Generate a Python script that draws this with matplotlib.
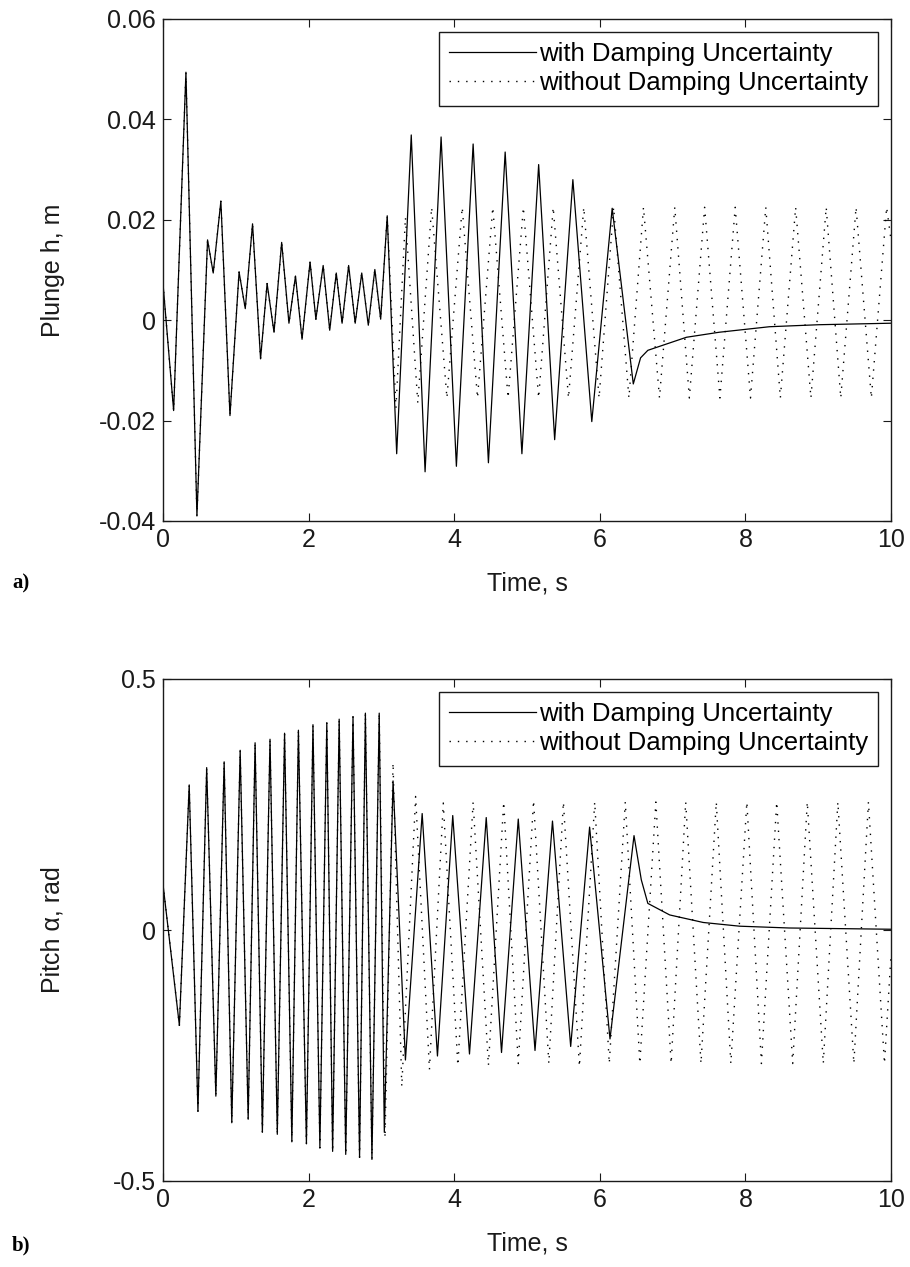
import numpy as np
import matplotlib
matplotlib.use("Agg")
import matplotlib.pyplot as plt

# ---------------- data ----------------
# (a) plunge, with damping uncertainty
t_h_with = [0.00, 0.146, 0.315, 0.466, 0.612, 0.69, 0.795, 0.92, 1.045, 1.13,
            1.23, 1.34, 1.43, 1.525, 1.63, 1.73, 1.82, 1.91, 2.02, 2.10,
            2.20, 2.29, 2.38, 2.46, 2.55, 2.64, 2.73, 2.82, 2.91, 2.99,
            3.08, 3.21, 3.41, 3.60, 3.82, 4.03, 4.26, 4.47, 4.70, 4.93,
            5.16, 5.38, 5.63, 5.89, 6.17, 6.46, 6.56, 6.66, 7.19, 7.64,
            8.33, 9.01, 10.0]
h_with = [0.0073, -0.018, 0.0494, -0.039, 0.016, 0.0094, 0.0237, -0.019, 0.0096, 0.0023,
          0.0192, -0.0077, 0.0073, -0.0024, 0.0155, -0.0006, 0.0088, -0.0038, 0.0116, 0.0002,
          0.0109, -0.002, 0.0094, -0.0006, 0.0109, -0.0006, 0.0094, -0.001, 0.0101, 0.0002,
          0.0208, -0.0266, 0.0369, -0.0302, 0.0365, -0.0291, 0.0351, -0.0284, 0.0335, -0.0266,
          0.031, -0.0238, 0.028, -0.0202, 0.0223, -0.0127, -0.0075, -0.006, -0.0034, -0.0024,
          -0.0013, -0.0009, -0.0006]
# (a) plunge, without damping uncertainty: same as above up to t = 3.08, then
t_h_without_tail = [3.20, 3.33, 3.50, 3.69, 3.90, 4.11, 4.32, 4.53, 4.74, 4.95,
                    5.16, 5.36, 5.57, 5.78, 5.99, 6.19, 6.40, 6.60, 6.82, 7.03,
                    7.23, 7.44, 7.65, 7.86, 8.07, 8.28, 8.48, 8.69, 8.90, 9.11,
                    9.31, 9.52, 9.73, 9.94, 10.0]
h_without_tail = [-0.0175, 0.0205, -0.0165, 0.0225, -0.0155, 0.0225, -0.0155, 0.0225, -0.0155, 0.0225,
                  -0.0155, 0.0225, -0.0155, 0.0225, -0.0155, 0.0225, -0.0155, 0.0225, -0.0155, 0.0225,
                  -0.0155, 0.0225, -0.0155, 0.0225, -0.0155, 0.0225, -0.0155, 0.0225, -0.0155, 0.0225,
                  -0.0155, 0.0225, -0.0155, 0.0225, 0.016]

# (b) pitch, with damping uncertainty
t_a_with = [0.00, 0.225, 0.36, 0.48, 0.60, 0.726, 0.84, 0.945, 1.06, 1.17,
            1.265, 1.365, 1.47, 1.57, 1.67, 1.77, 1.86, 1.97, 2.06, 2.155,
            2.25, 2.33, 2.42, 2.51, 2.61, 2.70, 2.78, 2.87, 2.97, 3.04,
            3.16, 3.33, 3.56, 3.77, 3.98, 4.21, 4.44, 4.65, 4.88, 5.11,
            5.35, 5.60, 5.86, 6.14, 6.47, 6.57, 6.66, 6.96, 7.42, 7.92,
            8.60, 10.0]
a_with = [0.091, -0.19, 0.289, -0.361, 0.3235, -0.331, 0.335, -0.384, 0.358, -0.377,
          0.373, -0.403, 0.38, -0.407, 0.392, -0.422, 0.398, -0.426, 0.409, -0.434,
          0.4125, -0.441, 0.42, -0.447, 0.4247, -0.453, 0.432, -0.457, 0.432, -0.403,
          0.297, -0.259, 0.232, -0.251, 0.228, -0.247, 0.224, -0.244, 0.221, -0.24,
          0.217, -0.232, 0.205, -0.217, 0.188, 0.10, 0.053, 0.030, 0.015, 0.0076,
          0.004, 0.0015]
# (b) pitch, without damping uncertainty: same as above up to t = 2.97, then
t_a_without_tail = [3.05, 3.16, 3.28, 3.47, 3.66, 3.85, 4.05, 4.26, 4.47, 4.68,
                    4.88, 5.09, 5.30, 5.50, 5.72, 5.93, 6.13, 6.35, 6.55, 6.77,
                    6.98, 7.18, 7.39, 7.60, 7.80, 8.02, 8.22, 8.43, 8.65, 8.85,
                    9.07, 9.27, 9.49, 9.69, 9.91, 10.0]
a_without_tail = [-0.414, 0.333, -0.312, 0.266, -0.278, 0.253, -0.27, 0.255, -0.27, 0.255,
                  -0.266, 0.258, -0.266, 0.255, -0.272, 0.255, -0.266, 0.255, -0.266, 0.255,
                  -0.266, 0.255, -0.266, 0.255, -0.266, 0.255, -0.266, 0.255, -0.266, 0.255,
                  -0.266, 0.255, -0.266, 0.255, -0.266, -0.05]

x_ticks = [0, 2, 4, 6, 8, 10]
x_tick_labels = ["0", "2", "4", "6", "8", "10"]
h_ticks = [-0.04, -0.02, 0, 0.02, 0.04, 0.06]
h_tick_labels = ["-0.04", "-0.02", "0", "0.02", "0.04", "0.06"]
a_ticks = [-0.5, 0, 0.5]
a_tick_labels = ["-0.5", "0", "0.5"]
legend_labels = ["with Damping Uncertainty", "without Damping Uncertainty"]

# ---------------- build series ----------------
n_h = t_h_with.index(3.08) + 1
t_h_without = t_h_with[:n_h] + t_h_without_tail
h_without = h_with[:n_h] + h_without_tail
n_a = t_a_with.index(2.97) + 1
t_a_without = t_a_with[:n_a] + t_a_without_tail
a_without = a_with[:n_a] + a_without_tail

plt.rcParams['font.family'] = ['Liberation Sans', 'DejaVu Sans']
FS = 18
LFS = 18.5
TXT = '#1a1a1a'

W, H = 910, 1267
fig = plt.figure(figsize=(W / 100, H / 100), dpi=100)

def fx(px):
    return px / W

def fy(py):
    return 1 - py / H

left, right = 163, 891
ax1 = fig.add_axes([fx(left), fy(521), fx(right - left), (521 - 19) / H])
ax2 = fig.add_axes([fx(left), fy(1181), fx(right - left), (1181 - 679) / H])

dot_style = (0, (1, 5))

def style(ax, yt, ytl, ylim, ylabel):
    ax.set_xlim(0, 10)
    ax.set_ylim(*ylim)
    ax.set_xticks(x_ticks)
    ax.set_xticklabels(x_tick_labels)
    ax.set_yticks(yt)
    ax.set_yticklabels(ytl)
    ax.tick_params(direction='in', length=6, width=0.8, top=True, right=True,
                   labelsize=FS, pad=5, colors=TXT)
    for s in ax.spines.values():
        s.set_linewidth(1.0)
        s.set_color(TXT)
    ax.set_xlabel("Time, s", fontsize=FS, color=TXT)
    ax.xaxis.set_label_coords(0.5, -0.1)
    ax.set_ylabel(ylabel, fontsize=FS, color=TXT)
    ax.yaxis.set_label_coords(-0.135, 0.5)

# top
ax1.plot(t_h_with, h_with, color='black', lw=0.9, label=legend_labels[0])
ax1.plot(t_h_without, h_without, color='black', lw=1.0, linestyle=dot_style,
         label=legend_labels[1])
style(ax1, h_ticks, h_tick_labels, (-0.04, 0.06), "Plunge h, m")

# bottom
ax2.plot(t_a_with, a_with, color='black', lw=0.9, label=legend_labels[0])
ax2.plot(t_a_without, a_without, color='black', lw=1.0, linestyle=dot_style,
         label=legend_labels[1])
style(ax2, a_ticks, a_tick_labels, (-0.5, 0.5), "Pitch \u03b1, rad")

for ax in (ax1, ax2):
    leg = ax.legend(loc='upper right', fontsize=LFS, frameon=True, fancybox=False,
                    framealpha=1, edgecolor=TXT, handlelength=3.4,
                    handletextpad=0.1, borderpad=0.4, labelspacing=0.2,
                    borderaxespad=0.5)
    leg.get_frame().set_linewidth(1.0)

fig.text(fx(12), fy(583), "a)", fontsize=15, fontweight='bold',
         family=['Liberation Serif', 'DejaVu Serif'], va='center', ha='left')
fig.text(fx(12), fy(1245), "b)", fontsize=15, fontweight='bold',
         family=['Liberation Serif', 'DejaVu Serif'], va='center', ha='left')

fig.savefig("out.png", dpi=100, facecolor='white')
